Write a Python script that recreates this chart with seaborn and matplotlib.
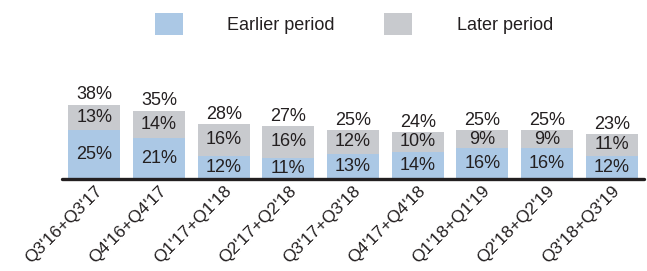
import matplotlib
matplotlib.use('Agg')

import pandas as pd
import seaborn as sns
import matplotlib.pyplot as plt
from matplotlib.patches import Patch

periods = ["Q3'16+Q3'17", "Q4'16+Q4'17", "Q1'17+Q1'18", "Q2'17+Q2'18", "Q3'17+Q3'18",
           "Q4'17+Q4'18", "Q1'18+Q1'19", "Q2'18+Q2'19", "Q3'18+Q3'19"]
earlier = [25, 21, 12, 11, 13, 14, 16, 16, 12]
later = [13, 14, 16, 16, 12, 10, 9, 9, 11]
totals = [38, 35, 28, 27, 25, 24, 25, 25, 23]

BLUE = '#abc8e5'
GRAY = '#c8cace'
TEXT = '#231f20'

sns.set_style('white')
plt.rcParams['font.family'] = ['Liberation Sans', 'DejaVu Sans']

df = pd.DataFrame({'period': periods, 'earlier': earlier, 'later': later, 'total': totals})

fig = plt.figure(figsize=(6.47, 2.71), dpi=100)
ax = fig.add_axes([62 / 647, 92 / 271, 582 / 647, 45 * 1.95 / 271])

# gray total bar behind, blue earlier bar on top
sns.barplot(data=df, x='period', y='total', color=GRAY, saturation=1, width=0.8,
            edgecolor='none', linewidth=0, ax=ax)
sns.barplot(data=df, x='period', y='earlier', color=BLUE, saturation=1, width=0.8,
            edgecolor='none', linewidth=0, ax=ax)

for i, row in df.iterrows():
    ax.text(i, row['earlier'] / 2, '{}%'.format(row['earlier']), ha='center', va='center',
            fontsize=13, color=TEXT, zorder=3)
    ax.text(i, row['earlier'] + row['later'] / 2, '{}%'.format(row['later']), ha='center',
            va='center', fontsize=13, color=TEXT, zorder=3)
    ax.text(i, row['total'] + 0.8, '{}%'.format(row['total']), ha='center', va='bottom',
            fontsize=13, color=TEXT, zorder=3)

ax.axhline(0, color='#231f20', linewidth=2.4, zorder=5, clip_on=False)

ax.set_xlim(-0.5, len(periods) - 0.5)
ax.set_ylim(0, 45)
ax.set_xlabel('')
ax.set_ylabel('')
ax.set_yticks([])
sns.despine(ax=ax, left=True, bottom=True)
ax.tick_params(axis='x', length=0, pad=3)
plt.setp(ax.get_xticklabels(), rotation=45, ha='right', rotation_mode='anchor',
         fontsize=12.5, color=TEXT)

handles = [Patch(facecolor=BLUE, edgecolor='none', label='Earlier period'),
           Patch(facecolor=GRAY, edgecolor='none', label='Later period')]
fig.legend(handles=handles, loc='center left', bbox_to_anchor=(155 / 647, 1 - 24 / 271),
           ncol=2, frameon=False, fontsize=13, borderpad=0, borderaxespad=0,
           handlelength=1.55, handleheight=1.55, handletextpad=2.45, columnspacing=2.75,
           labelcolor=TEXT)

plt.savefig('out.png', dpi=100)
